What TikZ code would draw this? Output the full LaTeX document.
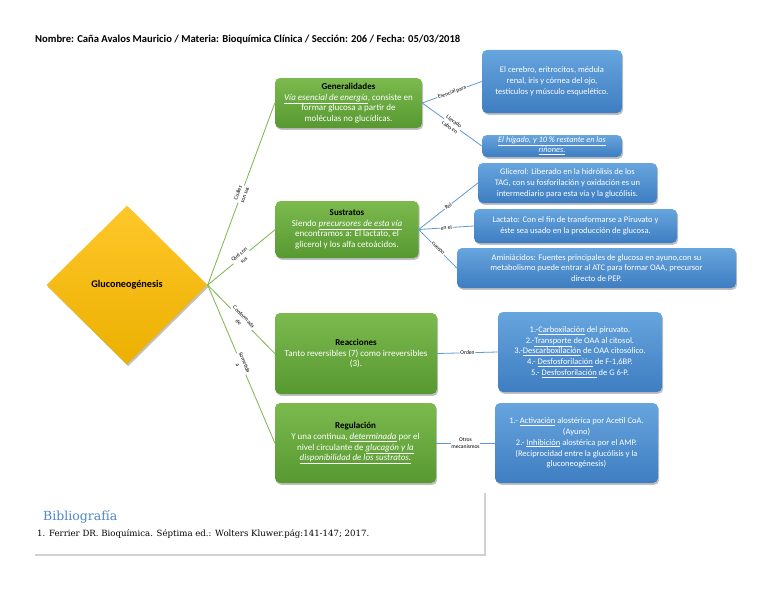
\documentclass[tikz,border=0pt]{standalone}
\usepackage{fontspec}
\setmainfont{Carlito}
\newfontfamily\bibfont{DejaVu Serif}
\usetikzlibrary{shapes.geometric,shadows}
\newcommand{\myul}[1]{\underline{#1}}
\definecolor{gtop}{HTML}{7CBA4E}
\definecolor{gbot}{HTML}{579831}
\definecolor{btop}{HTML}{67A5DE}
\definecolor{bbot}{HTML}{3E7DC1}
\definecolor{gline}{HTML}{7AB648}
\definecolor{bline}{HTML}{5B9BD5}
\definecolor{dtop}{HTML}{FFC72A}
\definecolor{dbot}{HTML}{EBB000}
\definecolor{bibblue}{HTML}{4F86C6}
\begin{document}
\begin{tikzpicture}[x=1pt,y=-1pt,
  boxshadow/.style={drop shadow={shadow xshift=1.2pt,shadow yshift=-1.8pt,opacity=0.35,fill=black!70}},
  greenbox/.style={rounded corners=5pt, top color=gtop, bottom color=gbot, draw=none,
    text=white, align=center, font=\fontsize{9}{10.5}\selectfont, inner sep=2pt, boxshadow},
  bluebox/.style={rounded corners=5pt, top color=btop, bottom color=bbot, draw=none,
    text=white, align=center, font=\fontsize{8.5}{10.8}\selectfont, inner sep=2pt, boxshadow},
  gconn/.style={draw=gline, line width=0.8pt},
  bconn/.style={draw=bline, line width=0.8pt},
  elabel/.style={fill=white, font=\fontsize{5.6}{7.4}\selectfont, inner sep=0.8pt, align=center, sloped, midway}
]
\useasboundingbox (0,0) rectangle (768,594);
\fill[white] (0,0) rectangle (768,594);

% header
\node[anchor=west, inner sep=0pt, font=\fontsize{10.6}{12}\selectfont\bfseries] (head) at (35,40)
  {Nombre: Caña Avalos Mauricio / Materia: Bioquímica Clínica / Sección: 206 / Fecha: 05/03/2018};

% central diamond
\node[diamond, minimum width=161pt, minimum height=159pt, inner sep=0pt, top color=dtop, bottom color=dbot,
  draw=none, boxshadow, font=\fontsize{10.2}{12}\selectfont\bfseries] (dia) at (127,285) {Gluconeogénesis};

% green boxes
\node[greenbox, minimum width=147pt, minimum height=50pt] (gen) at (348.5,103)
  {{\color{black}\bfseries Generalidades}\\
   \myul{\textit{Vía esencial de energía}}, consiste en\\
   formar glucosa a partir de\\
   moléculas no glucídicas.};
\node[greenbox, minimum width=143pt, minimum height=57pt] (sus) at (347,229.5)
  {{\color{black}\bfseries Sustratos}\\
   Siendo \myul{\textit{precursores de esta vía}}\\
   encontramos a: El lactato, el\\
   glicerol y los alfa cetoácidos.};
\node[greenbox, minimum width=162pt, minimum height=81pt] (rea) at (356,353.5)
  {{\color{black}\bfseries Reacciones}\\
   Tanto reversibles (7) como irreversibles\\
   (3).};
\node[greenbox, minimum width=161pt, minimum height=80pt] (reg) at (355.5,443)
  {{\color{black}\bfseries Regulación}\\[1pt]
   Y una continua, \myul{\textit{determinada}} por el\\
   nivel circulante de \myul{\textit{glucagón y la}}\\
   \myul{\textit{disponibilidad de los sustratos.}}};

% blue boxes
\node[bluebox, minimum width=140pt, minimum height=63pt] (b1) at (552,81.5)
  {El cerebro, eritrocitos, médula\\
   renal, iris y córnea del ojo,\\
   testículos y músculo esquelético.};
\node[bluebox, minimum width=140pt, minimum height=22pt, inner sep=1pt, font=\fontsize{8.3}{10.2}\selectfont] (b2) at (552,146)
  {\myul{\textit{El hígado, y 10 \% restante en los}}\\
   \myul{\textit{riñones.}}};
\node[bluebox, minimum width=179pt, minimum height=40pt] (gli) at (567.5,183)
  {Glicerol: Liberado en la hidrólisis de los\\
   TAG, con su fosforilación y oxidación es un\\
   intermediario para esta vía y la glucólisis.};
\node[bluebox, minimum width=203pt, minimum height=34pt] (lac) at (575.5,226)
  {Lactato: Con el fin de transformarse a Piruvato y\\
   éste sea usado en la producción de glucosa.};
\node[bluebox, minimum width=279pt, minimum height=40pt] (ami) at (596.5,268)
  {Aminiácidos: Fuentes principales de glucosa en ayuno,con su\\
   metabolismo puede entrar al ATC para formar OAA, precursor\\
   directo de PEP.};
\node[bluebox, minimum width=164pt, minimum height=80pt] (ord) at (580,352)
  {1.-\myul{Carboxilación} del piruvato.\\
   2.-\myul{Transporte} de OAA al citosol.\\
   3.-\myul{Descarboxilación} de OAA citosólico.\\
   4.- \myul{Desfosforilación} de F-1,6BP.\\
   5.- \myul{Desfosforilación} de G 6-P.};
\node[bluebox, minimum width=163pt, minimum height=80pt] (otr) at (576.5,443)
  {1.- \myul{Activación} alostérica por Acetil CoA.\\
   (Ayuno)\\
   2.- \myul{Inhibición} alostérica por el AMP.\\
   (Reciprocidad entre la glucólisis y la\\
   gluconeogénesis)};

% connectors from diamond
\draw[gconn] (dia.east) -- node[elabel]{Cuáles\\son sus} (gen.west);
\draw[gconn] (dia.east) -- node[elabel]{Qué son\\sus} (sus.west);
\draw[gconn] (dia.east) -- node[elabel]{Conformada\\de} (rea.west);
\draw[gconn] (dia.east) -- node[elabel]{Sometida\\a} (reg.west);

% connectors to blue boxes
\draw[bconn] (gen.east) -- node[elabel]{Esencial para} (b1.west);
\draw[bconn] (gen.east) -- node[elabel]{Llevado\\cabo en} (b2.west);
\draw[bconn] (sus.east) -- node[elabel]{Rol} (gli.west);
\draw[bconn] (sus.east) -- node[elabel]{en el} (lac.west);
\draw[bconn] (sus.east) -- node[elabel]{cuerpo} (ami.west);
\draw[bconn] (rea.east) -- node[elabel]{Orden} (ord.west);
\draw[bconn] (reg.east) -- node[elabel]{Otros\\mecanismos} (otr.west);

% bibliography
\draw[black!18, line width=1.4pt] (35,555) -- (485,555) -- (485,493);
\node[anchor=west, inner sep=0pt, text=bibblue, font=\bibfont\fontsize{12.5}{14}\selectfont] (bib) at (43,517) {Bibliografía};
\node[anchor=west, inner sep=0pt, font=\bibfont\fontsize{8.6}{10}\selectfont] (ref) at (37,534)
  {1. Ferrier DR. Bioquímica. Séptima ed.: Wolters Kluwer.pág:141-147; 2017.};
\end{tikzpicture}
\end{document}
